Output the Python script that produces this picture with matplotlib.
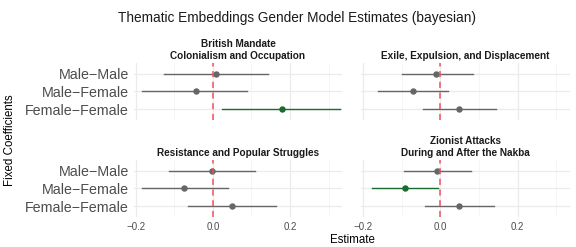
import numpy as np
import matplotlib.pyplot as plt

plt.rcParams['font.family'] = ['Liberation Sans', 'DejaVu Sans']

themes = ['British Mandate\nColonialism and Occupation',
          'Exile, Expulsion, and Displacement',
          'Resistance and Popular Struggles',
          'Zionist Attacks\nDuring and After the Nakba']
coefs = ['Male\u2212Male', 'Male\u2212Female', 'Female\u2212Female']

# estimate, lower, upper per theme (rows follow coefs)
est = [[0.009, -0.045, 0.179],
       [-0.011, -0.071, 0.047],
       [-0.002, -0.074, 0.050],
       [-0.009, -0.092, 0.049]]
low = [[-0.127, -0.183, 0.024],
       [-0.099, -0.161, -0.045],
       [-0.114, -0.183, -0.065],
       [-0.093, -0.176, -0.039]]
high = [[0.142, 0.088, 0.330],
        [0.085, 0.021, 0.143],
        [0.109, 0.038, 0.163],
        [0.078, -0.005, 0.139]]

W, H = 576, 247
fig = plt.figure(figsize=(W / 100, H / 100), dpi=100)

# panel boxes in pixels: left, top, right, bottom
boxes = [(134, 63, 342, 120), (361, 63, 570, 120),
         (134, 160, 342, 217), (361, 160, 570, 217)]

grey = '#666666'
green = '#1a6b2e'

for k, (l, t, r, b) in enumerate(boxes):
    ax = fig.add_axes([l / W, 1 - b / H, (r - l) / W, (b - t) / H])
    ax.set_xlim(-0.205, 0.335)
    ax.set_ylim(2.6, -0.6)
    for x in [-0.2, 0.0, 0.2]:
        ax.axvline(x, color='#ebebeb', lw=0.9, zorder=0)
    for x in [-0.1, 0.1, 0.3]:
        ax.axvline(x, color='#f2f2f2', lw=0.5, zorder=0)
    for y in range(3):
        ax.axhline(y, color='#ebebeb', lw=0.9, zorder=0)
    for i in range(3):
        sig = low[k][i] > 0 or high[k][i] < 0
        c = green if sig else grey
        ax.plot([low[k][i], high[k][i]], [i, i], color=c, lw=1.0, zorder=2)
        ax.plot(est[k][i], i, 'o', color=c, ms=3.6, zorder=3)
    ax.axvline(0, color='#f0505f', lw=1.1, ls=(0, (4, 3)), zorder=4)
    for s in ax.spines.values():
        s.set_visible(False)
    ax.tick_params(length=0)
    ax.set_xticks([-0.2, 0.0, 0.2])
    if k >= 2:
        ax.set_xticklabels(['\u22120.2', '0.0', '0.2'], fontsize=7, color='#4d4d4d')
    else:
        ax.set_xticklabels([])
    ax.set_yticks(range(3))
    if k % 2 == 0:
        ax.set_yticklabels(coefs, fontsize=10.3, color='#4d4d4d')
    else:
        ax.set_yticklabels([])
    ax.set_title(themes[k], fontsize=7.2, fontweight='bold', color='#1a1a1a',
                 pad=3, linespacing=1.2)

fig.text(0.515, 1 - 18 / H, 'Thematic Embeddings Gender Model Estimates (bayesian)',
         ha='center', va='center', fontsize=9.8, color='#1a1a1a')
fig.text(352 / W, 1 - 240 / H, 'Estimate', ha='center', va='center', fontsize=8.3)
fig.text(10 / W, 1 - 140 / H, 'Fixed Coefficients', ha='center', va='center',
         rotation=90, fontsize=8.3)

fig.savefig('out.png', dpi=100, facecolor='white')
